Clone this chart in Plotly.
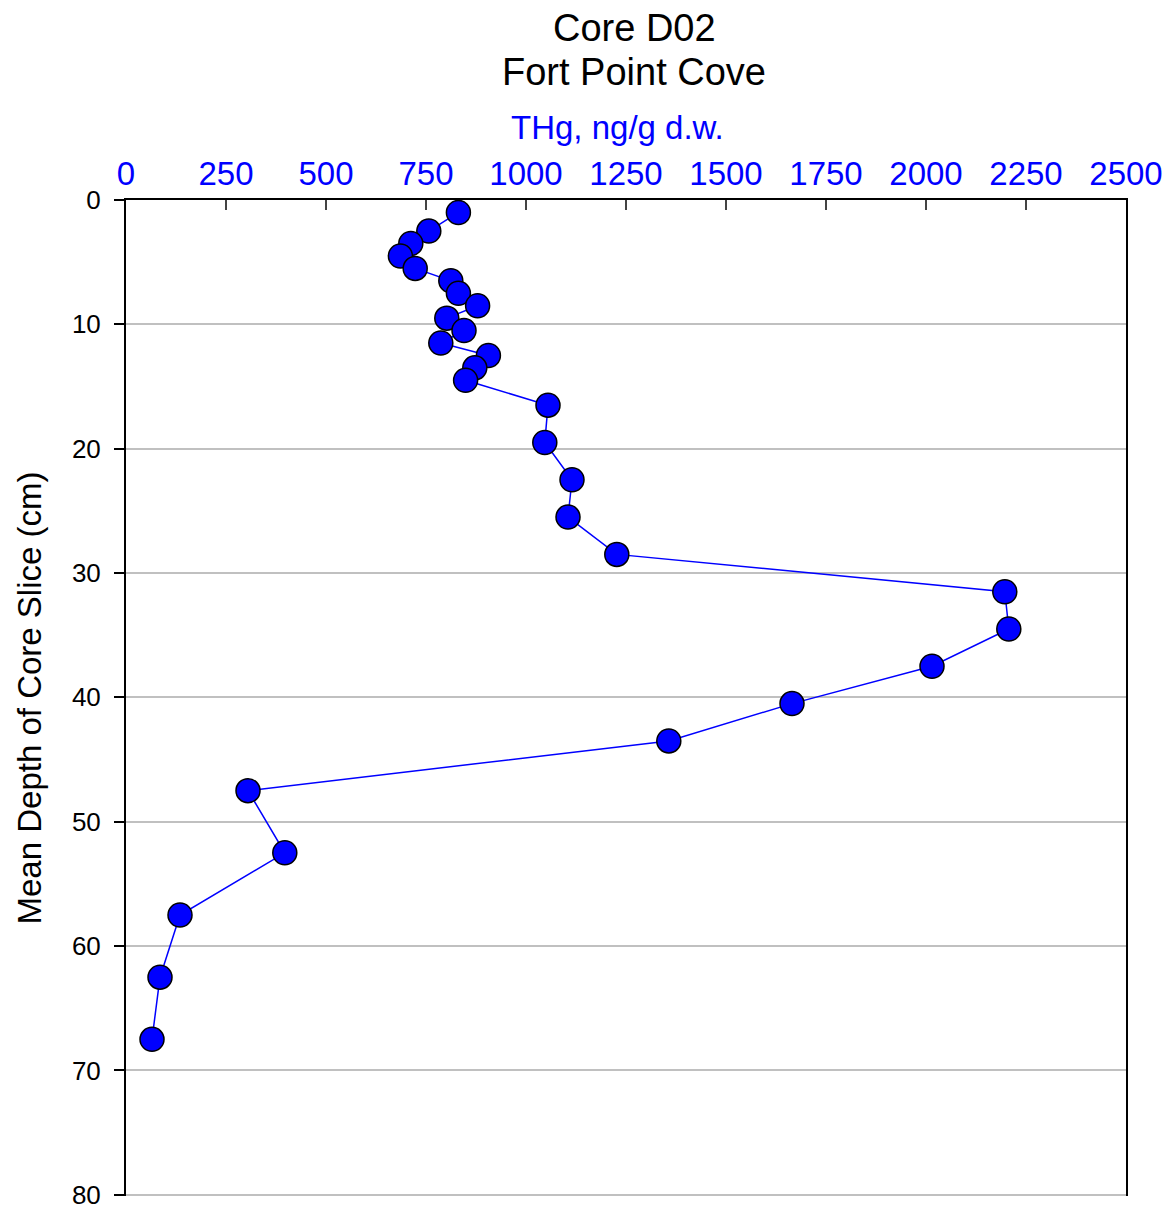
import plotly.graph_objects as go

depth_cm = [1, 2.5, 3.5, 4.5, 5.5, 6.5, 7.5, 8.5, 9.5, 10.5, 11.5, 12.5, 13.5, 14.5,
            16.5, 19.5, 22.5, 25.5, 28.5, 31.5, 34.5, 37.5, 40.5, 43.5, 47.5, 52.5,
            57.5, 62.5, 67.5]
thg_ng_g = [831, 757, 712, 686, 723, 812, 831, 879, 802, 845, 787, 906, 872, 849,
            1055, 1047, 1115, 1105, 1227, 2197, 2207, 2015, 1665, 1357, 305, 397,
            135, 85, 65]

x_ticks = [0, 250, 500, 750, 1000, 1250, 1500, 1750, 2000, 2250, 2500]
y_ticks = [0, 10, 20, 30, 40, 50, 60, 70, 80]

FONT = "Liberation Sans, Arial, sans-serif"

fig = go.Figure()
fig.add_trace(go.Scatter(
    x=thg_ng_g, y=depth_cm, mode="lines+markers",
    line=dict(color="#0000ff", width=1.5),
    marker=dict(size=24, color="#0000ff", line=dict(color="black", width=1.5)),
    showlegend=False, hoverinfo="x+y",
))

fig.update_layout(
    width=1167, height=1209,
    margin=dict(l=126, r=41, t=200, b=13, autoexpand=False),
    paper_bgcolor="white", plot_bgcolor="white",
    font=dict(family=FONT, color="black"),
    xaxis=dict(
        side="top", range=[0, 2500], tickvals=x_ticks,
        ticktext=[str(v) for v in x_ticks],
        tickfont=dict(size=33, color="#0000ff", family=FONT),
        ticks="inside", ticklen=10, tickwidth=1.5, tickcolor="#444444",
        showline=True, linecolor="black", linewidth=2,
        showgrid=False, zeroline=False, automargin=False,
        ticklabeloverflow="allow",
    ),
    yaxis=dict(
        range=[80.1, 0], tickvals=y_ticks,
        tickfont=dict(size=26, color="black", family=FONT),
        ticks="outside", ticklen=10, tickwidth=2, tickcolor="black",
        ticklabelstandoff=8, ticklabeloverflow="allow",
        showline=True, linecolor="black", linewidth=2, mirror=True,
        showgrid=True, gridcolor="#c0c0c0", gridwidth=2,
        zeroline=False, automargin=False,
        title=dict(text="Mean Depth of Core Slice (cm)", font=dict(size=33, color="black", family=FONT), standoff=20),
    ),
    annotations=[
        dict(text="Core D02", xref="paper", yref="paper",
             x=0.508, y=1.0, yshift=200 - 28, yanchor="middle", xanchor="center",
             showarrow=False, font=dict(size=38, color="black", family=FONT)),
        dict(text="Fort Point Cove", xref="paper", yref="paper",
             x=0.508, y=1.0, yshift=200 - 72, yanchor="middle", xanchor="center",
             showarrow=False, font=dict(size=38, color="black", family=FONT)),
        dict(text="THg, ng/g d.w.", xref="paper", yref="paper",
             x=0.491, y=1.0, yshift=200 - 127, yanchor="middle", xanchor="center",
             showarrow=False, font=dict(size=33, color="#0000ff", family=FONT)),
    ],
)

fig.write_html("out.html")
